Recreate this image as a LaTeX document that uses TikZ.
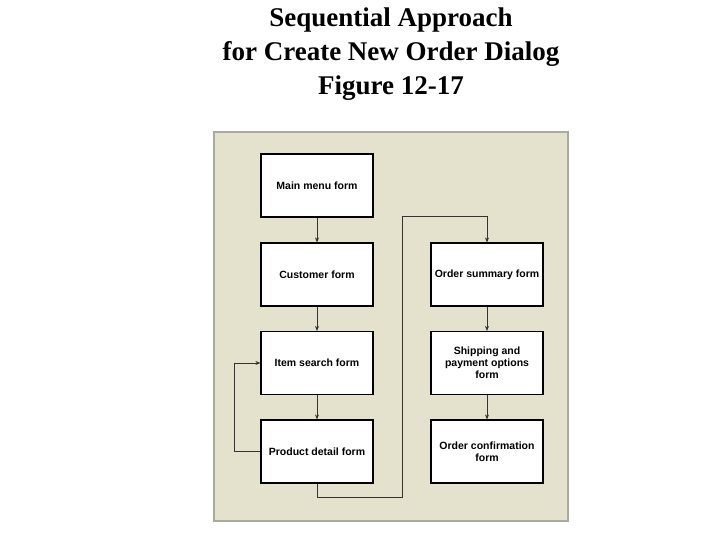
\documentclass[tikz,border=0pt]{standalone}
\usepackage{fontspec}
\setmainfont{Liberation Serif}
\newfontfamily\boxfont{Liberation Sans}
\usetikzlibrary{arrows.meta}
\definecolor{panel}{RGB}{228,226,204}
\definecolor{panelline}{RGB}{170,170,160}
\begin{document}
\begin{tikzpicture}[x=1pt,y=-1pt,
  formbox/.style={draw=black,line width=1.2pt,fill=white,minimum width=112pt,minimum height=63pt,align=center,font=\boxfont\bfseries\fontsize{10.5}{12}\selectfont,inner sep=1pt},
  conn/.style={draw=black!80,line width=0.6pt},
  arr/.style={conn,-{Stealth[length=5pt,width=4pt]}}]
\useasboundingbox (0,0) rectangle (720,540);
\node[font=\bfseries\fontsize{27}{34}\selectfont,align=center] (title) at (391,54) {Sequential Approach\\for Create New Order Dialog\\Figure 12-17};
\draw[fill=panel,draw=panelline,line width=1.5pt] (214,132) rectangle (568,521);
\node[formbox] (main) at (317,185.5) {Main menu form};
\node[formbox] (cust) at (317,274.5) {Customer form};
\node[formbox] (item) at (317,363) {Item search form};
\node[formbox] (prod) at (317,451.5) {Product detail form};
\node[formbox] (sum) at (487,274.5) {Order summary form};
\node[formbox] (ship) at (487,363) {Shipping and\\payment options\\form};
\node[formbox] (conf) at (487,451.5) {Order confirmation\\form};
\draw[arr] (main) -- (cust);
\draw[arr] (cust) -- (item);
\draw[arr] (item) -- (prod);
\draw[arr] (prod.west) -- (234,451.5) -- (234,363) -- (item.west);
\draw[arr] (prod.south) -- (317,497) -- (402,497) -- (402,216) -- (487,216) -- (sum.north);
\draw[arr] (sum) -- (ship);
\draw[arr] (ship) -- (conf);
\end{tikzpicture}
\end{document}
